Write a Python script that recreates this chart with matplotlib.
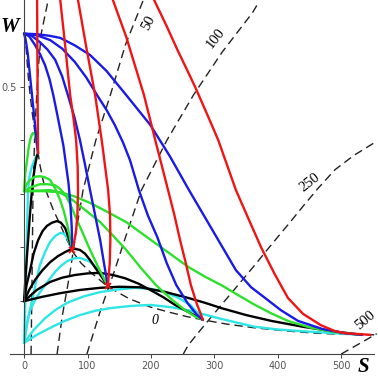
import matplotlib.pyplot as plt

# end points on the "0" curve (marked with small crosses)
end_s = [76, 132]
end_w = [0.195, 0.127]

# red curves (coming down from the top)
red = [
    ([20.5, 21, 21.5, 22], [0.663, 0.55, 0.45, 0.376]),
    ([57, 65, 72.6, 78, 82, 84.5, 85, 84, 82, 79, 76],
     [0.663, 0.575, 0.485, 0.44, 0.401, 0.35, 0.307, 0.26, 0.232, 0.21, 0.195]),
    ([85, 98, 112, 123, 132.5, 135.5, 136, 135, 132],
     [0.663, 0.575, 0.485, 0.395, 0.307, 0.26, 0.213, 0.17, 0.127]),
    ([140, 161, 189, 208, 227, 237, 246, 255, 263, 272, 282],
     [0.663, 0.594, 0.485, 0.395, 0.307, 0.26, 0.213, 0.17, 0.129, 0.095, 0.064]),
    ([205, 224, 242, 257, 270.5, 288.6, 306, 334, 355, 374, 395, 416, 440, 468, 490, 506, 546],
     [0.663, 0.616, 0.569, 0.532, 0.498, 0.449, 0.401, 0.307, 0.25, 0.199, 0.15, 0.105, 0.075,
      0.054, 0.043, 0.039, 0.036]),
]

# blue curves, start at W = 0.6
blue = [
    ([0, 3, 6, 9, 12, 15, 18, 20, 22],
     [0.6, 0.585, 0.56, 0.525, 0.49, 0.455, 0.42, 0.395, 0.376]),
    ([0, 8, 17, 25, 33, 40, 46, 52, 57, 62, 66, 70, 73, 75, 76],
     [0.6, 0.595, 0.579, 0.562, 0.541, 0.515, 0.485, 0.45, 0.42, 0.39, 0.355, 0.32, 0.28, 0.24, 0.195]),
    ([0, 12, 25, 37, 49, 60, 69, 79, 88, 96, 104, 112, 120, 126, 131, 132],
     [0.6, 0.596, 0.584, 0.57, 0.551, 0.52, 0.485, 0.445, 0.401, 0.355, 0.307, 0.26, 0.213, 0.17, 0.135, 0.127]),
    ([0, 20, 41, 60, 80, 98, 115, 130, 143, 156, 167, 181, 195, 210, 225, 240, 258, 272, 282],
     [0.6, 0.597, 0.588, 0.572, 0.547, 0.518, 0.485, 0.457, 0.429, 0.396, 0.363, 0.307, 0.26, 0.219,
      0.17, 0.129, 0.095, 0.074, 0.064]),
    ([0, 20, 40, 57, 80, 104, 130, 161, 199, 230, 260, 300, 334, 358, 380, 405, 432, 470, 506, 533],
     [0.6, 0.599, 0.596, 0.592, 0.578, 0.56, 0.53, 0.485, 0.429, 0.37, 0.307, 0.226, 0.157, 0.125,
      0.105, 0.082, 0.062, 0.047, 0.039, 0.036]),
]

# green curves, start at W = 0.3
green = [
    ([0, 2, 4.7, 7, 9.5, 12, 14, 17, 19, 21, 22],
     [0.305, 0.34, 0.363, 0.385, 0.401, 0.41, 0.414, 0.41, 0.401, 0.39, 0.376]),
    ([0, 4, 9.5, 17, 25, 33, 41, 49, 57, 63, 68, 72, 76],
     [0.305, 0.318, 0.326, 0.332, 0.333, 0.331, 0.326, 0.31, 0.288, 0.266, 0.242, 0.22, 0.195]),
    ([0, 12, 25, 37, 49, 57, 65, 73, 80, 92, 104, 118, 132],
     [0.305, 0.313, 0.318, 0.318, 0.316, 0.309, 0.298, 0.28, 0.26, 0.228, 0.195, 0.16, 0.127]),
    ([0, 20, 41, 57, 72.6, 96, 120, 140, 161, 185, 208, 232, 254, 270, 282],
     [0.305, 0.306, 0.307, 0.302, 0.292, 0.27, 0.247, 0.222, 0.195, 0.16, 0.129, 0.103, 0.082, 0.07, 0.064]),
    ([0, 30, 57, 80, 104, 130, 161, 210, 259, 285, 311, 338, 364, 390, 416, 450, 490, 533],
     [0.305, 0.305, 0.303, 0.295, 0.283, 0.267, 0.247, 0.205, 0.163, 0.145, 0.129, 0.11, 0.092,
      0.076, 0.062, 0.05, 0.041, 0.036]),
]

# black curves, start at W = 0.1
black = [
    ([0, 1.5, 3, 4.6, 6.3, 8.5, 11, 14, 17.4, 20, 22],
     [0.099, 0.13, 0.157, 0.185, 0.213, 0.25, 0.288, 0.326, 0.354, 0.37, 0.376]),
    ([0, 4, 9.5, 15, 22, 29, 36, 44, 52, 58, 64.7, 70, 75.7],
     [0.099, 0.13, 0.157, 0.188, 0.213, 0.23, 0.24, 0.246, 0.249, 0.246, 0.236, 0.218, 0.195]),
    ([0, 8, 17.4, 29, 41, 53, 64.7, 72, 80, 88, 96, 104, 112, 122, 132],
     [0.099, 0.12, 0.139, 0.157, 0.172, 0.183, 0.191, 0.195, 0.197, 0.195, 0.188, 0.176, 0.162, 0.145, 0.127]),
    ([0, 20, 41, 60, 80, 100, 120, 140, 159, 180, 199, 220, 238, 260, 282],
     [0.099, 0.12, 0.135, 0.143, 0.148, 0.151, 0.152, 0.148, 0.142, 0.132, 0.12, 0.106, 0.092, 0.078, 0.064]),
    ([0, 28, 57, 88, 120, 150, 183, 220, 259, 285, 311, 350, 390, 440, 484, 533],
     [0.099, 0.107, 0.114, 0.12, 0.124, 0.126, 0.125, 0.117, 0.105, 0.096, 0.086, 0.073, 0.062,
      0.051, 0.043, 0.036]),
]

# cyan curves, start at W = 0.02
cyan = [
    ([0, 1, 2, 3, 4, 5, 6, 8, 12, 17, 22],
     [0.021, 0.06, 0.1, 0.15, 0.2, 0.25, 0.3, 0.33, 0.35, 0.365, 0.376]),
    ([0, 6, 12.6, 19, 25, 33, 41, 49, 57, 63, 68, 72, 76],
     [0.021, 0.065, 0.101, 0.136, 0.167, 0.191, 0.21, 0.221, 0.227, 0.225, 0.217, 0.207, 0.195]),
    ([0, 4, 9.5, 19, 30, 40, 49, 58, 68, 78, 88, 102, 115, 124, 132],
     [0.021, 0.055, 0.082, 0.105, 0.124, 0.14, 0.154, 0.165, 0.174, 0.179, 0.18, 0.174, 0.161, 0.146, 0.127]),
    ([0, 15, 33, 50, 68, 94, 120, 148, 175, 200, 222, 242, 262, 272, 282],
     [0.021, 0.045, 0.067, 0.083, 0.096, 0.108, 0.116, 0.121, 0.124, 0.122, 0.116, 0.106, 0.092, 0.079, 0.064]),
    ([0, 20, 41, 64, 88, 112, 136, 168, 199, 230, 259, 310, 364, 400, 435, 490, 533],
     [0.021, 0.036, 0.049, 0.062, 0.073, 0.081, 0.086, 0.09, 0.092, 0.088, 0.082, 0.066, 0.051,
      0.046, 0.043, 0.039, 0.036]),
]

# dashed lines: the "0" curve and the time lines 10, 50, 100, 250, 500
d0_s = [1.6, 4, 6.5, 9.5, 13, 17, 21, 25, 30, 36, 46, 57, 67, 77, 90, 104, 118, 131, 165, 199,
        230, 257, 282, 320, 364, 416, 460, 500, 554]
d0_w = [0.601, 0.56, 0.52, 0.485, 0.45, 0.416, 0.385, 0.354, 0.325, 0.301, 0.27, 0.242, 0.215,
        0.191, 0.17, 0.154, 0.14, 0.127, 0.104, 0.088, 0.078, 0.07, 0.064, 0.056, 0.049, 0.043,
        0.039, 0.037, 0.036]
d10_s = [11, 12.6, 14, 17, 22, 27, 38]
d10_w = [0.0, 0.15, 0.3, 0.42, 0.53, 0.6, 0.663]
d50_s = [52, 60, 72.6, 82, 93, 113, 136, 160, 188]
d50_w = [0.0, 0.07, 0.154, 0.23, 0.307, 0.4, 0.485, 0.58, 0.663]
d100_s = [99, 120, 142, 163, 185, 225, 267, 312, 360, 369]
d100_w = [0.0, 0.08, 0.154, 0.23, 0.307, 0.4, 0.485, 0.565, 0.639, 0.657]
d250_s = [251, 259, 285, 311, 338, 364, 390, 416, 440, 464, 490, 520, 554]
d250_w = [0.0, 0.017, 0.055, 0.092, 0.13, 0.167, 0.205, 0.242, 0.277, 0.311, 0.345, 0.372, 0.397]
d500_s = [500, 556]
d500_w = [0.0, 0.038]

fig = plt.figure(figsize=(3.78, 3.77), dpi=100)
ax = fig.add_axes([0, 0, 1, 1])
ax.set_xlim(-38, 558)
ax.set_ylim(-0.043, 0.663)

dash = dict(color='#222222', lw=1.0, dashes=(6, 3.5))
for s, w in [(d0_s, d0_w), (d10_s, d10_w), (d50_s, d50_w), (d100_s, d100_w),
             (d250_s, d250_w), (d500_s, d500_w)]:
    ax.plot(s, w, **dash)

for curves, col in [(cyan, '#2ee6e6'), (black, 'black'), (green, '#2ee02e'),
                    (blue, '#1a1ae6'), (red, '#f01414')]:
    for s, w in curves:
        ax.plot(s, w, color=col, lw=1.7, solid_capstyle='round', solid_joinstyle='round')

ax.plot(end_s, end_w, 'x', color='#f01414', ms=4, mew=1.2)

# axes through the origin
for side in ['top', 'right']:
    ax.spines[side].set_visible(False)
ax.spines['left'].set_position(('data', 0))
ax.spines['bottom'].set_position(('data', 0))
ax.spines['left'].set_bounds(-0.003, 0.663)
ax.spines['bottom'].set_bounds(-22, 552)
for side in ['left', 'bottom']:
    ax.spines[side].set_color('#444444')
    ax.spines[side].set_linewidth(0.8)

ax.set_xticks([0, 100, 200, 300, 400, 500])
ax.set_yticks([0.1, 0.2, 0.3, 0.4, 0.5])
ax.set_yticklabels(['', '', '', '', '0.5'])
ax.tick_params(direction='out', length=3, width=0.7, colors='#444444',
               labelsize=7, labelcolor='#555555', pad=2)

serif = 'Liberation Serif'
ax.text(-23, 0.612, 'W', fontsize=15, fontstyle='italic', fontweight='bold',
        family=serif, ha='center', va='center')
ax.text(535, -0.025, 'S', fontsize=15, fontstyle='italic', fontweight='bold',
        family=serif, ha='center', va='center')

ax.text(207, 0.062, '0', fontsize=10, fontstyle='italic', family=serif, ha='center', va='center')
ax.text(196, 0.62, '50', fontsize=10.5, family=serif, rotation=62, ha='center', va='center')
ax.text(302, 0.592, '100', fontsize=10.5, family=serif, rotation=52, ha='center', va='center')
ax.text(450, 0.322, '250', fontsize=10.5, family=serif, rotation=38, ha='center', va='center')
ax.text(538, 0.064, '500', fontsize=10.5, family=serif, rotation=40, ha='center', va='center')

fig.savefig('out.png', dpi=100)
